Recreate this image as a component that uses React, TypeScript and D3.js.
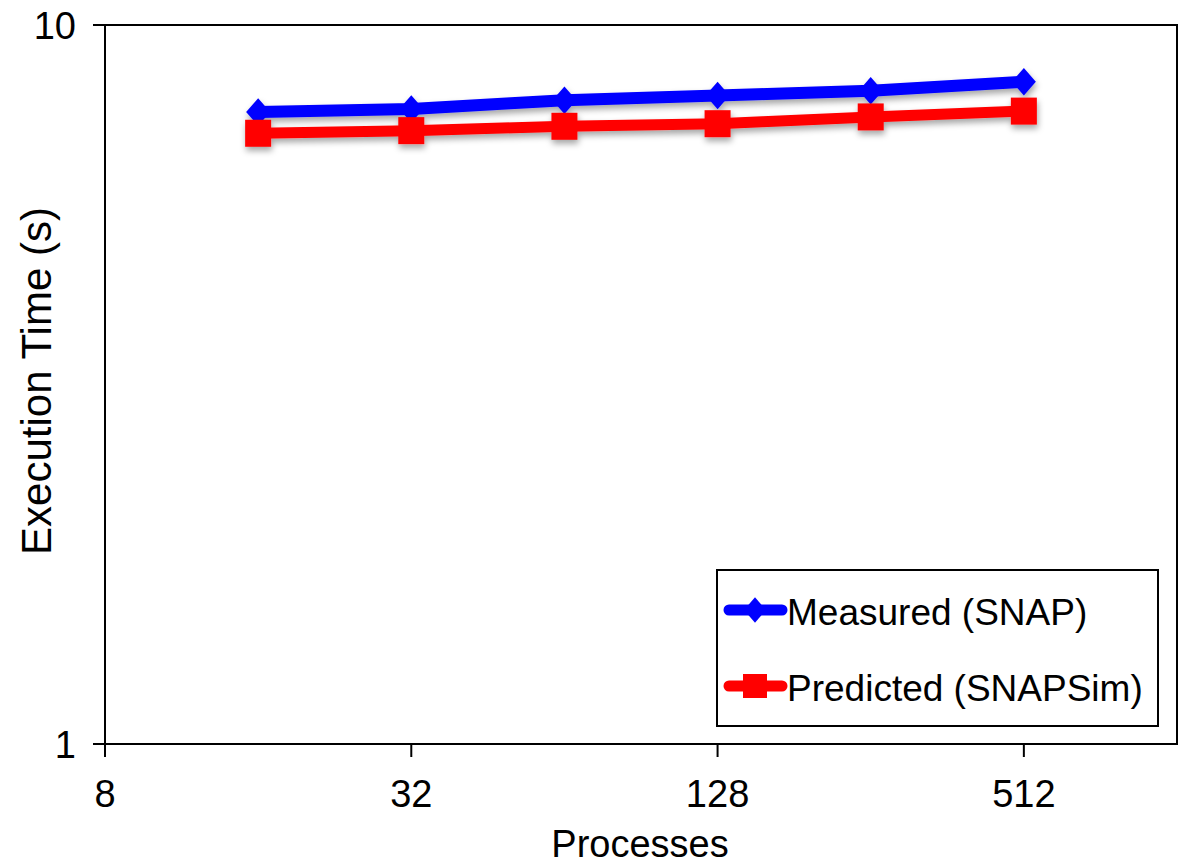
import React from "react";
import * as d3 from "d3";

const processes = [16, 32, 64, 128, 256, 512];
const measured = [7.57, 7.64, 7.86, 7.98, 8.1, 8.34];
const predicted = [7.07, 7.13, 7.23, 7.29, 7.45, 7.59];
const xTicks = [8, 32, 128, 512];
const yTicks = [1, 10];
const seriesNames = ["Measured (SNAP)", "Predicted (SNAPSim)"];
const seriesColors = ["#0000ff", "#ff0000"];

const W = 1183;
const H = 864;
const FONT = "'Liberation Sans', Arial, Helvetica, sans-serif";

export default function App() {
  const x = d3.scaleLog().base(2).domain([8, 1024]).range([105, 1177]);
  const y = d3.scaleLog().domain([1, 10]).range([744, 25]);
  const line = d3
    .line<number>()
    .x((_, i) => x(processes[i]))
    .y((v) => y(v));

  const diamond = (cx: number, cy: number, r: number) =>
    `M${cx},${cy - r * 1.15}L${cx + r},${cy}L${cx},${cy + r * 1.15}L${cx - r},${cy}Z`;

  const left = x.range()[0];
  const right = x.range()[1];
  const bottom = y.range()[0];
  const top = y.range()[1];

  return (
    <svg
      width={W}
      height={H}
      style={{ position: "absolute", left: 0, top: 0, background: "#fff" }}
      fontFamily={FONT}
    >
      <defs>
        <filter id="shadow" x="-10%" y="-50%" width="120%" height="200%">
          <feDropShadow dx="1" dy="4" stdDeviation="3" floodColor="#000" floodOpacity="0.35" />
        </filter>
      </defs>
      <rect x={0} y={0} width={W} height={H} fill="#fff" />
      {/* frame */}
      <rect x={left} y={top} width={right - left} height={bottom - top} fill="none" stroke="#000" strokeWidth={2} />
      {/* y ticks */}
      {yTicks.map((t) => (
        <g key={"y" + t}>
          <line x1={93} x2={left} y1={y(t)} y2={y(t)} stroke="#000" strokeWidth={2} />
          <text x={76} y={y(t)} dy="0.36em" textAnchor="end" fontSize={38} fill="#000">
            {t}
          </text>
        </g>
      ))}
      {/* x ticks */}
      {xTicks.map((t) => (
        <g key={"x" + t}>
          <line x1={x(t)} x2={x(t)} y1={bottom} y2={757} stroke="#000" strokeWidth={2} />
          <text x={x(t)} y={807} textAnchor="middle" fontSize={38} fill="#000">
            {t}
          </text>
        </g>
      ))}
      <text x={640} y={857} textAnchor="middle" fontSize={38} fill="#000">
        Processes
      </text>
      <text
        transform={`translate(51,381) rotate(-90)`}
        textAnchor="middle"
        fontSize={42}
        fill="#000"
      >
        Execution Time (s)
      </text>
      {/* series */}
      <g filter="url(#shadow)">
        <path d={line(measured) || ""} fill="none" stroke={seriesColors[0]} strokeWidth={12} strokeLinejoin="round" strokeLinecap="round" />
        {measured.map((v, i) => (
          <path key={"m" + i} d={diamond(x(processes[i]), y(v), 12)} fill={seriesColors[0]} />
        ))}
      </g>
      <g filter="url(#shadow)">
        <path d={line(predicted) || ""} fill="none" stroke={seriesColors[1]} strokeWidth={11} strokeLinejoin="round" strokeLinecap="round" />
        {predicted.map((v, i) => (
          <rect key={"p" + i} x={x(processes[i]) - 13} y={y(v) - 13.5} width={26} height={27} fill={seriesColors[1]} />
        ))}
      </g>
      {/* legend */}
      <rect x={717} y={570} width={441} height={156} fill="#fff" stroke="#000" strokeWidth={2} />
      {seriesNames.map((name, i) => {
        const ly = i === 0 ? 610 : 686;
        return (
          <g key={name}>
            <line x1={729} x2={782} y1={ly} y2={ly} stroke={seriesColors[i]} strokeWidth={11} strokeLinecap="round" />
            {i === 0 ? (
              <path d={diamond(755, ly, 11)} fill={seriesColors[i]} />
            ) : (
              <rect x={743} y={ly - 12} width={24} height={24} fill={seriesColors[i]} />
            )}
            <text x={787} y={ly + 15} fontSize={37} fill="#000">
              {name}
            </text>
          </g>
        );
      })}
    </svg>
  );
}
